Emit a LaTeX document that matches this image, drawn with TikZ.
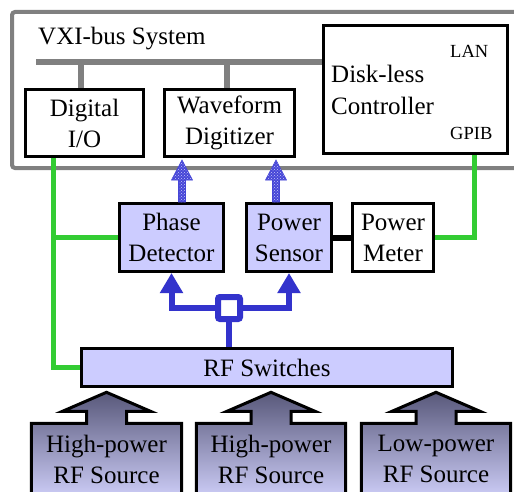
\documentclass[tikz,border=0pt]{standalone}
\usepackage{fontspec}
\setmainfont{Liberation Serif}
\usetikzlibrary{arrows.meta,calc,patterns}
\definecolor{lav}{RGB}{204,204,255}
\definecolor{busgray}{RGB}{128,128,128}
\definecolor{sigblue}{RGB}{51,51,204}
\definecolor{ctlgreen}{RGB}{51,204,51}
\definecolor{srctop}{RGB}{88,88,122}
\definecolor{srcbot}{RGB}{202,202,244}
\definecolor{hatchblue}{RGB}{70,70,215}
\definecolor{hatchdot}{RGB}{200,200,248}

\pgfdeclarelayer{bg}
\pgfsetlayers{bg,main}

\tikzset{
  unit/.style={draw=black, fill=white, line width=3pt, align=center,
    inner sep=0pt, font=\fontsize{25}{31}\selectfont},
  rfunit/.style={unit, fill=lav},
  srcunit/.style={align=center, inner sep=0pt, font=\fontsize{25}{31}\selectfont},
  small/.style={font=\fontsize{18.5}{22}\selectfont, inner sep=0pt},
  label/.style={font=\fontsize{25}{31}\selectfont, inner sep=0pt},
  busline/.style={draw=busgray, line width=6pt},
  ctlline/.style={draw=ctlgreen, line width=5pt},
  sigline/.style={draw=sigblue, line width=6pt,
    -{Triangle[width=22pt,length=20pt]}},
  hatch/.style={preaction={fill=hatchblue}, pattern=crosshatch dots,
    pattern color=hatchdot, draw=hatchblue, line width=0.6pt},
  srcfill/.style={draw=black, line width=3pt, top color=srctop, bottom color=srcbot},
}

% up-pointing patterned arrow from #1 (base) to #2 (tip)
\newcommand\hatchup[2]{%
  \path[hatch] let \p1=(#1), \p2=(#2) in
    (\x1-3.5pt,\y1) -- (\x1-3.5pt,\y2-20pt) -- (\x1-10.5pt,\y2-20pt) --
    (\x1,\y2) -- (\x1+10.5pt,\y2-20pt) -- (\x1+3.5pt,\y2-20pt) --
    (\x1+3.5pt,\y1) -- cycle;}

% source box with a broad arrow on its top edge
\newcommand\srcshape[1]{%
  \path[srcfill] let \p1=(#1.north west), \p2=(#1.south east), \p3=(#1.north) in
    (\x1,\y1) -- (\x3-20pt,\y1) -- (\x3-20pt,\y1+12pt) -- (\x3-44pt,\y1+12pt) --
    (\x3,\y1+31pt) -- (\x3+44pt,\y1+12pt) -- (\x3+20pt,\y1+12pt) --
    (\x3+20pt,\y1) -- (\x2,\y1) -- (\x2,\y2) -- (\x1,\y2) -- cycle;}

\begin{document}
\begin{tikzpicture}[x=1pt,y=-1pt]
\useasboundingbox (0,0) rectangle (514,492);
\clip (0,0) rectangle (514,492);

% VXI mainframe
\begin{pgfonlayer}{bg}
  \fill[white] (0,0) rectangle (514,492);
  \draw[busgray, line width=4pt, rounded corners=3pt] (12,12) rectangle (540,168);
\end{pgfonlayer}
\node[label, anchor=base west] (sys) at (38,45) {VXI-bus System};

% modules in the mainframe
\node[unit, minimum width=118pt, minimum height=67pt] (dio) at (84.5,123) {Digital\\I/O};
\node[unit, minimum width=130pt, minimum height=67pt] (wd) at (229.5,123) {Waveform\\Digitizer};
\node[unit, minimum width=184pt, minimum height=128pt] (ctrl) at (415.5,89.5) {};
\node[label, anchor=base west] (ctrl1) at (331,83) {Disk-less};
\node[label, anchor=base west] (ctrl2) at (331,115) {Controller};
\node[small, anchor=base west] (lan) at (450,58) {LAN};
\node[small, anchor=base west] (gpib) at (450,140) {GPIB};

% measurement instruments
\node[rfunit, minimum width=104pt, minimum height=68pt] (pd) at (171.5,237.5) {Phase\\Detector};
\node[rfunit, minimum width=85pt, minimum height=68pt] (ps) at (289,237.5) {Power\\Sensor};
\node[unit, minimum width=81pt, minimum height=68pt] (pm) at (393,237.5) {Power\\Meter};

% switch matrix and splitter
\node[rfunit, minimum width=371pt, minimum height=38pt] (rf) at (267,367.5) {RF Switches};
\node[draw=sigblue, fill=white, line width=6pt, rounded corners=2pt,
      minimum size=22pt, inner sep=0pt] (split) at (229,308) {};

% RF sources
\node[srcunit, minimum width=150pt, minimum height=71pt] (s1) at (106.5,459) {};
\node[srcunit, minimum width=149pt, minimum height=71pt] (s2) at (271,459) {};
\node[srcunit, minimum width=149pt, minimum height=71pt] (s3) at (436,459) {};
\srcshape{s1}
\srcshape{s2}
\srcshape{s3}
\node[srcunit] at (s1) {High-power\\RF Source};
\node[srcunit] at (s2) {High-power\\RF Source};
\node[srcunit] at (s3) {Low-power\\RF Source};

\begin{pgfonlayer}{bg}
  % VXI bus
  \coordinate (busL) at (36,62);
  \draw[busline] (busL) -- (ctrl.west |- busL);
  \draw[busline] ($(dio.north)+(-3.5,0)$) -- ($(dio.north |- busL)+(-3.5,0)$);
  \draw[busline] ($(wd.north)+(-2.5,0)$) -- ($(wd.north |- busL)+(-2.5,0)$);
  % control lines
  \coordinate (gL) at ($(dio.south west)+(29.5,0)$);
  \coordinate (gR) at ($(ctrl.south east)+(-34.5,0)$);
  \draw[ctlline] (gL) |- (rf.west);
  \draw[ctlline] (pd.west) -| (gL);
  \draw[ctlline] (gR) |- (pm.east);
  % sensor cable
  \draw[black, line width=6pt] (ps.east) -- (pm.west);
  % RF distribution
  \draw[draw=sigblue, line width=6pt] (split.south) -- (split.south |- rf.north);
  \draw[sigline] (split.west) -| (pd.south);
  \draw[sigline] (split.east) -| (ps.south);
\end{pgfonlayer}

% detected signals to the digitizer
\coordinate (t1) at (182,160);
\coordinate (t2) at (276,160);
\hatchup{t1 |- pd.north}{t1}
\hatchup{t2 |- ps.north}{t2}
\end{tikzpicture}
\end{document}
